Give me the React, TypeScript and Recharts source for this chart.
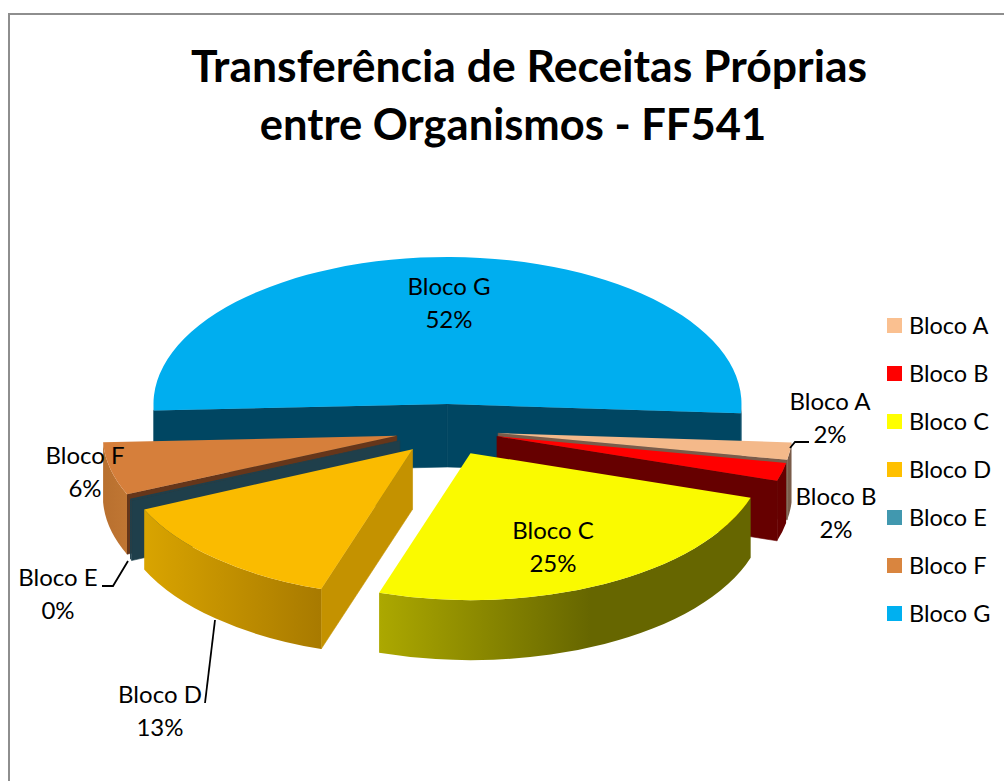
import { PieChart, Pie, Legend } from 'recharts';

const BLOCKS = ['Bloco A', 'Bloco B', 'Bloco C', 'Bloco D', 'Bloco E', 'Bloco F', 'Bloco G'];
const VALUES = [1.9, 2, 25.13, 13.27, 0.2, 5.8, 51.7];
const LEGEND_COLORS = ['#fac090', '#ff0000', '#ffff00', '#ffc000', '#4198af', '#d9853f', '#00b0f0'];

// faces of each block: top, cut walls, outer wall (left / right end of the shading)
const TOP_COLORS = ['#f4b98a', '#ff0000', '#fafa00', '#fabb00', '#1f3f4b', '#d67f3b', '#00aeef'];
const CUT_COLORS = ['#7a5c4a', '#660000', '#666600', '#c49200', '#1f3f4b', '#66361a', '#004662'];
const WALL_LEFT = ['#7a5c4a', '#660000', '#aca800', '#d9a400', '#1f3f4b', '#b8702f', '#004662'];
const WALL_RIGHT = ['#7a5c4a', '#660000', '#666600', '#a87a00', '#1f3f4b', '#c07633', '#004662'];

// back to front, svg has no z-index so every block gets its own Pie
const DRAW_ORDER = ['Bloco G', 'Bloco A', 'Bloco B', 'Bloco C', 'Bloco F', 'Bloco E', 'Bloco D'];

const FONT = 'Lato, sans-serif';
const CX = 447;
const CY = 430;
const RX = 294;
const SQUASH = 0.5;
const DEPTH = 60;
const BACK_DEPTH = 63; // Bloco G sits further away, its walls read a bit taller
const EXPLODE_X = 51.5;
const EXPLODE_Y = 26;

const data = BLOCKS.map((name, i) => ({ name, value: VALUES[i] }));

const LABELS: Record<string, { x: number; y: number; line?: string }> = {
  'Bloco A': { x: 830, y: 402, line: '790,448 795,442 809,442' },
  'Bloco B': { x: 836, y: 497 },
  'Bloco C': { x: 553, y: 531 },
  'Bloco D': { x: 160, y: 695, line: '215,620 205,703' },
  'Bloco E': { x: 58, y: 578, line: '102,586 113,586 128,561' },
  'Bloco F': { x: 85, y: 456 },
  'Bloco G': { x: 449, y: 287 },
};

const rad = (d: number) => (d * Math.PI) / 180;

const makeBlock = (target: string) => (props: any) => {
  const name = props.payload?.name ?? props.name;
  if (name !== target) return <g />;
  const i = BLOCKS.indexOf(name);
  const depth = name === 'Bloco G' ? BACK_DEPTH : DEPTH;
  const rx = props.outerRadius;
  const ry = rx * SQUASH;
  // screen angles, clockwise from east
  const t1 = -props.startAngle;
  const t2 = -props.endAngle;
  const mid = rad((t1 + t2) / 2);
  const ax = props.cx + EXPLODE_X * Math.cos(mid);
  const ay = props.cy + EXPLODE_Y * Math.sin(mid);
  const pt = (t: number) => [ax + rx * Math.cos(rad(t)), ay + ry * Math.sin(rad(t))];
  const [x1, y1] = pt(t1);
  const [x2, y2] = pt(t2);
  const large = t2 - t1 > 180 ? 1 : 0;
  const top = `M${ax},${ay}L${x1},${y1}A${rx},${ry} 0 ${large} 1 ${x2},${y2}Z`;

  const cut = (x: number, y: number) =>
    `M${ax},${ay}L${x},${y}L${x},${y + depth}L${ax},${ay + depth}Z`;

  // outer wall only where the rim faces the viewer
  const rims: string[] = [];
  let minX = Infinity;
  let maxX = -Infinity;
  [[0, 180], [360, 540]].forEach(([lo, hi]) => {
    const a = Math.max(t1, lo);
    const b = Math.min(t2, hi);
    if (a >= b) return;
    const [sx, sy] = pt(a);
    const [ex, ey] = pt(b);
    minX = Math.min(minX, sx, ex);
    maxX = Math.max(maxX, sx, ex);
    rims.push(
      `M${sx},${sy}A${rx},${ry} 0 0 1 ${ex},${ey}L${ex},${ey + depth}A${rx},${ry} 0 0 0 ${sx},${sy + depth}Z`,
    );
  });
  const gradId = `wall-${i}`;
  return (
    <g>
      <defs>
        <linearGradient id={gradId} gradientUnits="userSpaceOnUse" x1={minX} x2={Math.max(maxX, minX + 1)} y1={0} y2={0}>
          <stop offset="0" stopColor={WALL_LEFT[i]} />
          <stop offset={i === 2 ? 0.57 : 1} stopColor={WALL_RIGHT[i]} />
          <stop offset="1" stopColor={WALL_RIGHT[i]} />
        </linearGradient>
      </defs>
      {Math.cos(rad(t1)) < 0 && <path d={cut(x1, y1)} fill={CUT_COLORS[i]} stroke={CUT_COLORS[i]} strokeWidth={0.6} />}
      {Math.cos(rad(t2)) > 0 && <path d={cut(x2, y2)} fill={CUT_COLORS[i]} stroke={CUT_COLORS[i]} strokeWidth={0.6} />}
      {rims.map((d) => (
        <path key={d} d={d} fill={`url(#${gradId})`} />
      ))}
      <path d={top} fill={TOP_COLORS[i]} />
    </g>
  );
};

const renderLabel = (props: any) => {
  const name = props.name;
  const pos = LABELS[name];
  const pct = `${Math.round(props.percent * 100)}%`;
  return (
    <g key={name}>
      {pos.line && <polyline points={pos.line} fill="none" stroke="#000" strokeWidth={1.8} />}
      <text x={pos.x} y={pos.y + 8} textAnchor="middle" fontFamily={FONT} fontSize={24} fill="#000">
        {name}
      </text>
      <text x={pos.x} y={pos.y + 41} textAnchor="middle" fontFamily={FONT} fontSize={24} fill="#000">
        {pct}
      </text>
    </g>
  );
};

const LegendList = () => (
  <div style={{ fontFamily: FONT, fontSize: 23.5, color: '#000' }}>
    {BLOCKS.map((name, i) => (
      <div key={name} style={{ height: 48, display: 'flex', alignItems: 'center' }}>
        <span style={{ width: 15, height: 15, background: LEGEND_COLORS[i], marginRight: 7 }} />
        {name}
      </div>
    ))}
  </div>
);

const pieProps = {
  data,
  dataKey: 'value',
  nameKey: 'name',
  cx: CX,
  cy: CY,
  innerRadius: 0,
  outerRadius: RX,
  startAngle: -3.6,
  endAngle: -363.6,
  stroke: 'none',
  isAnimationActive: false,
  legendType: 'none' as const,
};

export default function App() {
  return (
    <div style={{ position: 'absolute', left: 0, top: 0, width: 1004, height: 781, overflow: 'hidden', background: '#fff' }}>
      <div
        style={{
          position: 'absolute',
          left: 8,
          top: 13,
          width: 996,
          height: 768,
          borderLeft: '2px solid #8e8e8e',
          borderTop: '2px solid #8e8e8e',
        }}
      />
      <PieChart width={1004} height={781} margin={{ top: 0, right: 0, bottom: 0, left: 0 }} style={{ position: 'absolute', left: 0, top: 0 }}>
        <text x={529} y={82} textAnchor="middle" fontFamily={FONT} fontWeight={700} fontSize={44.5} fill="#000">
          Transferência de Receitas Próprias
        </text>
        <text x={513} y={140} textAnchor="middle" fontFamily={FONT} fontWeight={700} fontSize={43.5} fill="#000">
          entre Organismos - FF541
        </text>
        {DRAW_ORDER.map((name) => {
          const shape = makeBlock(name);
          return <Pie key={name} {...pieProps} shape={shape} inactiveShape={shape} activeShape={shape} />;
        })}
        <Pie {...pieProps} shape={() => <g />} label={renderLabel} labelLine={false} />
        <Legend content={LegendList} wrapperStyle={{ position: 'absolute', left: 887, top: 301, width: 117, bottom: 'auto' }} />
      </PieChart>
    </div>
  );
}
